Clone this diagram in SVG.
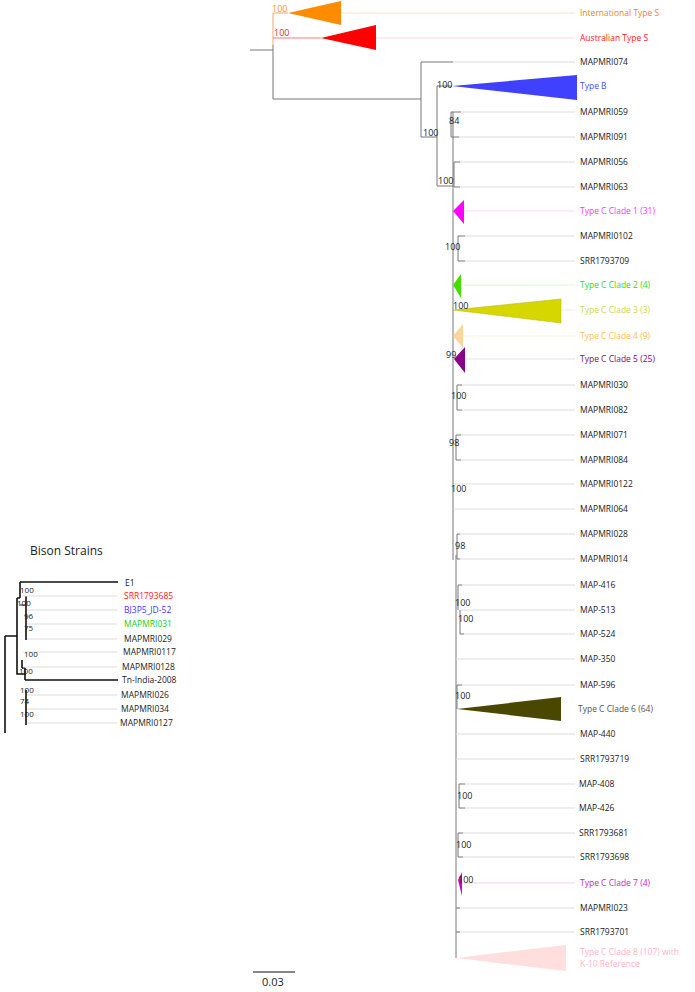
<svg xmlns="http://www.w3.org/2000/svg" width="695" height="992" viewBox="0 0 695 992">
<style>
text{font-family:"Open Sans","Noto Sans","Liberation Sans",sans-serif;font-size:8.5px;fill:#222}
.bs{font-size:9px;fill:#222}
.bb{font-size:8px;fill:#222}
.br{stroke:#777;stroke-width:1;fill:none}
.gd{stroke:#dcdcdc;stroke-width:1;fill:none}
.bk{stroke:#111;stroke-width:1.6;fill:none}
.bt{stroke:#222;stroke-width:1;fill:none}
</style>
<rect width="695" height="992" fill="#fff"/>

<g id="connectors">
  <path class="br" d="M250 50H273"/>
  <path d="M273 13V45" stroke="#f7a56b" stroke-width="1" fill="none"/>
  <path class="br" d="M273 45V99H421"/>
  <path d="M273 13H288" stroke="#f7a56b" stroke-width="1"/>
  <path d="M273 38H321" stroke="#ff7a7a" stroke-width="1"/>
  <path d="M341 13H575" stroke="#fde0d0" stroke-width="1"/>
  <path d="M376 38H575" stroke="#ffd6d6" stroke-width="1"/>
  <path class="br" d="M421 62V137H437"/>
  <path class="br" d="M421 62H453"/>
  <path class="gd" d="M453 62H575"/>
  <path class="br" d="M437 86V186H453"/>
  <path class="br" d="M437 86H452"/>
  <path class="br" d="M453 112V560"/>
  <path class="br" d="M456 555V958"/>
  <path class="br" d="M451 112V137M451 112H461M451 137H459"/>
  <path class="gd" d="M461 112H575M459 137H575"/>
  <path class="br" d="M454 162V187M454 162H460M454 187H460"/>
  <path class="gd" d="M460 162H575M460 187H575"/>
  <path d="M464 211H575" stroke="#ffd6ff" stroke-width="1"/>
  <path class="br" d="M458 236V261M458 236H465M458 261H465"/>
  <path class="gd" d="M465 236H575M465 261H575"/>
  <path d="M461 285H575" stroke="#e0f5d8" stroke-width="1"/>
  <path d="M561 310H575" stroke="#f0f0d0" stroke-width="1"/>
  <path d="M463 336H575" stroke="#fff0dc" stroke-width="1"/>
  <path d="M465 359H575" stroke="#eadcea" stroke-width="1"/>
  <path class="br" d="M457 385V410M457 385H462M457 410H462"/>
  <path class="gd" d="M462 385H575M462 410H575"/>
  <path class="br" d="M456 435V460M456 435H461M456 460H461"/>
  <path class="gd" d="M461 435H575M461 460H575"/>
  <path class="gd" d="M455 484H575M455 509H575"/>
  <path class="br" d="M457 534V559M457 534H460M457 559H460"/>
  <path class="gd" d="M460 534H575M460 559H575"/>
  <path class="br" d="M458 585V610M458 585H462M460 610V634M460 634H464"/>
  <path class="gd" d="M462 585H575M461 610H575M464 634H575M456 659H575"/>
  <path class="br" d="M457 685V709M457 685H462"/>
  <path class="gd" d="M462 685H575M456 734H575M456 759H575"/>
  <path class="br" d="M459 784V808M459 784H465M459 808H465"/>
  <path class="gd" d="M465 784H575M465 808H575"/>
  <path class="br" d="M458 833V857M458 833H463M458 857H463"/>
  <path class="gd" d="M463 833H575M463 857H575"/>
  <path d="M462 883H575" stroke="#f5d0f5" stroke-width="1"/>
  <path class="gd" d="M456 908H575M456 932H575"/>
  <path class="br" d="M456 908H460M456 932H460"/>

  <path class="bk" d="M5 636V733M5 636H17M17 598V674H26M20 582V598M17 598H20M20 582H118"/>
  <path class="bk" d="M26 596V640M22 660V668M26 690V725M25 680H118M22 668H25M25 668V680"/>
  <path class="bt" d="M20 605H26"/>
  <path class="gd" d="M22 596H117M27 610H117M27 624H117M27 639H117M23 652H117M23 667H117M27 695H117M27 709H117M27 723H117"/>
</g>

<g id="node-intl">
  <polygon points="288,13 341,1 341,25" fill="#ff8c00"/>
  <text x="272" y="12" class="bs" style="fill:#f59540">100</text>
  <text x="580" y="16" style="fill:#f5821f">International Type S</text>
</g>
<g id="node-aus">
  <polygon points="321,38 376,25 376,50" fill="#ff0000"/>
  <text x="274" y="36" class="bs" style="fill:#e03030">100</text>
  <text x="580" y="41" style="fill:#ff1a1a">Australian Type S</text>
</g>
<g id="node-074"><text x="580" y="65">MAPMRI074</text></g>
<g id="node-typeb">
  <polygon points="452,86 577,75 577,100" fill="#4040ff"/>
  <text x="437" y="88" class="bs">100</text>
  <text x="580" y="89" style="fill:#4a4aff">Type B</text>
</g>
<g id="boot-a"><text x="423" y="136" class="bs">100</text><text x="438" y="184" class="bs">100</text></g>
<g id="node-059"><text x="449" y="124" class="bs">84</text><text x="580" y="115">MAPMRI059</text></g>
<g id="node-091"><text x="580" y="140">MAPMRI091</text></g>
<g id="node-056"><text x="580" y="165">MAPMRI056</text></g>
<g id="node-063"><text x="580" y="190">MAPMRI063</text></g>
<g id="node-c1">
  <polygon points="453,211 464,200 464,224" fill="#ff00ff"/>
  <text x="580" y="214" style="fill:#ff33ff">Type C Clade 1 (31)</text>
</g>
<g id="node-0102"><text x="445" y="250" class="bs">100</text><text x="580" y="239">MAPMRI0102</text></g>
<g id="node-709"><text x="580" y="264">SRR1793709</text></g>
<g id="node-c2">
  <polygon points="453,285 461,274 461,298" fill="#44dd00"/>
  <text x="580" y="288" style="fill:#33dd00">Type C Clade 2 (4)</text>
</g>
<g id="node-c3">
  <polygon points="453,310 561,299 561,323" fill="#d6d600" stroke="#b0b000" stroke-width="0.5"/>
  <text x="453" y="309" class="bs">100</text>
  <text x="580" y="313" style="fill:#d4d44a">Type C Clade 3 (3)</text>
</g>
<g id="node-c4">
  <polygon points="453,336 463,324 463,348" fill="#ffd59a"/>
  <text x="580" y="339" style="fill:#ffbe4a">Type C Clade 4 (9)</text>
</g>
<g id="node-c5">
  <polygon points="454,359 465,347 465,373" fill="#8b008b"/>
  <text x="446" y="358" class="bs">99</text>
  <text x="580" y="362" style="fill:#880088">Type C Clade 5 (25)</text>
</g>
<g id="node-030"><text x="451" y="399" class="bs">100</text><text x="580" y="388">MAPMRI030</text></g>
<g id="node-082"><text x="580" y="413">MAPMRI082</text></g>
<g id="node-071"><text x="449" y="446" class="bs">98</text><text x="580" y="438">MAPMRI071</text></g>
<g id="node-084"><text x="580" y="463">MAPMRI084</text></g>
<g id="node-0122"><text x="451" y="492" class="bs">100</text><text x="580" y="487">MAPMRI0122</text></g>
<g id="node-064"><text x="580" y="512">MAPMRI064</text></g>
<g id="node-028"><text x="455" y="549" class="bs">98</text><text x="580" y="537">MAPMRI028</text></g>
<g id="node-014"><text x="580" y="562">MAPMRI014</text></g>
<g id="node-416"><text x="455" y="606" class="bs">100</text><text x="580" y="588">MAP-416</text></g>
<g id="node-513"><text x="458" y="622" class="bs">100</text><text x="580" y="613">MAP-513</text></g>
<g id="node-524"><text x="580" y="637">MAP-524</text></g>
<g id="node-350"><text x="580" y="662">MAP-350</text></g>
<g id="node-596"><text x="580" y="688">MAP-596</text></g>
<g id="node-c6">
  <polygon points="457,709 561,697 561,721" fill="#4a4800"/>
  <text x="455" y="699" class="bs">100</text>
  <text x="578" y="712" style="fill:#555">Type C Clade 6 (64)</text>
</g>
<g id="node-440"><text x="580" y="737">MAP-440</text></g>
<g id="node-719"><text x="580" y="762">SRR1793719</text></g>
<g id="node-408"><text x="457" y="799" class="bs">100</text><text x="579" y="787">MAP-408</text></g>
<g id="node-426"><text x="579" y="811">MAP-426</text></g>
<g id="node-681"><text x="456" y="848" class="bs">100</text><text x="579" y="836">SRR1793681</text></g>
<g id="node-698"><text x="580" y="860">SRR1793698</text></g>
<g id="node-c7">
  <polygon points="458,880 462,872 462,896" fill="#cc00cc"/>
  <text x="458" y="883" class="bs">100</text>
  <text x="580" y="886" style="fill:#cc22cc">Type C Clade 7 (4)</text>
</g>
<g id="node-023"><text x="580" y="911">MAPMRI023</text></g>
<g id="node-701"><text x="580" y="935">SRR1793701</text></g>
<g id="node-c8">
  <polygon points="456,958 566,945 566,971" fill="#ffdede"/>
  <text x="580" y="955" style="fill:#ffb3c6">Type C Clade 8 (107) with</text>
  <text x="580" y="967" style="fill:#ffb3c6">K-10 Reference</text>
</g>

<g id="scale">
  <path d="M253 972H295" stroke="#111" stroke-width="1.2"/>
  <text x="262" y="986" style="font-size:11px">0.03</text>
</g>

<g id="bison">
  <text x="30" y="555" style="font-size:12px">Bison Strains</text>
  <text x="20" y="593" class="bb">100</text>
  <text x="17" y="606" class="bb">100</text>
  <text x="24" y="619" class="bb">96</text>
  <text x="24" y="631" class="bb">75</text>
  <text x="24" y="657" class="bb">100</text>
  <text x="19" y="674" class="bb">100</text>
  <text x="20" y="693" class="bb">100</text>
  <text x="20" y="704" class="bb">74</text>
  <text x="20" y="717" class="bb">100</text>
  <g id="b-e1"><text x="125" y="586">E1</text></g>
  <g id="b-685"><text x="124" y="599" style="fill:#ff2020">SRR1793685</text></g>
  <g id="b-bj"><text x="124" y="613" style="fill:#3a3aff">BJ3P5_JD-52</text></g>
  <g id="b-031"><text x="124" y="627" style="fill:#22cc22">MAPMRI031</text></g>
  <g id="b-029"><text x="124" y="642">MAPMRI029</text></g>
  <g id="b-0117"><text x="123" y="655">MAPMRI0117</text></g>
  <g id="b-0128"><text x="122" y="670">MAPMRI0128</text></g>
  <g id="b-tn"><text x="122" y="683">Tn-India-2008</text></g>
  <g id="b-026"><text x="121" y="698">MAPMRI026</text></g>
  <g id="b-034"><text x="121" y="712">MAPMRI034</text></g>
  <g id="b-0127"><text x="120" y="726">MAPMRI0127</text></g>
</g>
</svg>
